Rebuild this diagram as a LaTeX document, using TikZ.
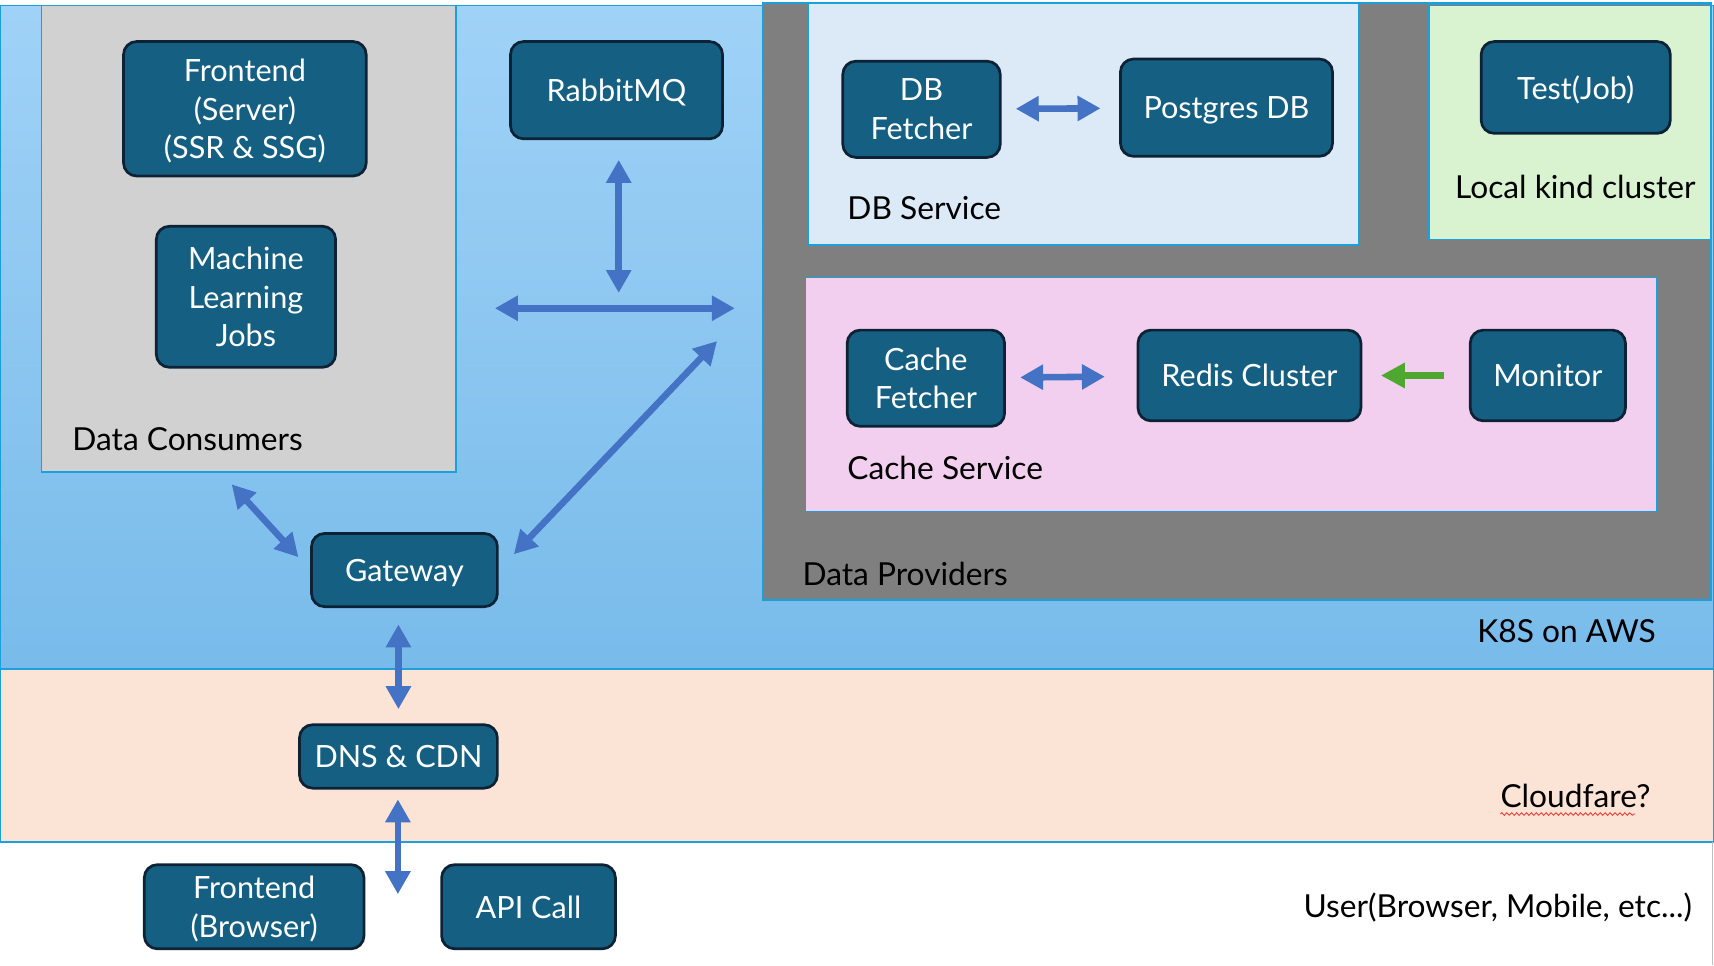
\documentclass[tikz,border=0pt]{standalone}
\usepackage{fontspec}
\setmainfont{Lato}
\usetikzlibrary{arrows.meta}
\usetikzlibrary{decorations.pathmorphing}
\definecolor{k8stop}{HTML}{A0D2F7}
\definecolor{k8sbot}{HTML}{78BBEA}
\definecolor{edgeblue}{HTML}{1AA0DA}
\definecolor{cdnpeach}{HTML}{FBE3D6}
\definecolor{consgray}{HTML}{D1D1D1}
\definecolor{provgray}{HTML}{7F7F7F}
\definecolor{dbblue}{HTML}{DCEAF7}
\definecolor{kindgreen}{HTML}{D9F2D0}
\definecolor{cachepink}{HTML}{F2CFEE}
\definecolor{boxfill}{HTML}{156082}
\definecolor{boxline}{HTML}{0E2236}
\definecolor{linkblue}{HTML}{4472C4}
\definecolor{pushgreen}{HTML}{4EA72E}
\definecolor{spellred}{HTML}{E8403A}
\newcommand{\Region}[6]% #1=name, #2=fill options, #3-#6 = x1,y1,x2,y2
{\node[region, #2, minimum width={#5-#3}, minimum height={#6-#4}] (#1) at ({(#3+#5)/2},{(#4+#6)/2}) {};
}

\begin{document}
\begin{tikzpicture}[x=1pt, y=-1pt,
  region/.style={rectangle, draw=edgeblue, line width=1.5pt, inner sep=0pt},
  box/.style={rectangle, rounded corners=12pt, fill=boxfill, draw=boxline, line width=2.5pt,
    text=white, align=center, inner sep=0pt, text depth=0pt, font=\fontsize{28}{35.5}\selectfont},
  tag/.style={inner sep=0pt, text depth=0pt, font=\fontsize{29}{34}\selectfont},
  link/.style={linkblue, line width=6pt, {Triangle[length=21pt,width=22pt]}-{Triangle[length=21pt,width=22pt]}},
  push/.style={pushgreen, line width=7pt, -{Triangle[length=22pt,width=22pt]}}]
  \useasboundingbox (0,0) rectangle (1568,883);
  \fill[white] (0,0) rectangle (1568,883);
  % layers
  \Region{k8s}{top color=k8stop, bottom color=k8sbot}{0}{5}{1568}{612}
  \Region{cdn}{fill=cdnpeach}{0}{612}{1568}{770}
  \draw[gray!50, line width=1pt] (1567,770) -- (1567,883);
  \Region{dc}{fill=consgray}{38}{5}{417}{432}
  \Region{dp}{fill=provgray}{698}{3}{1565}{549}
  \Region{dbs}{fill=dbblue}{739}{3}{1243}{224}
  \Region{kind}{fill=kindgreen}{1307}{5}{1565}{219}
  \Region{cs}{fill=cachepink}{737}{254}{1516}{468}
  % services
  \node[box, minimum width=222, minimum height=123] (fes) at (224,99.5) {Frontend\\(Server)\\(SSR \& SSG)};
  \node[box, minimum width=164, minimum height=129] (ml) at (225,271.5) {Machine\\Learning\\Jobs};
  \node[box, minimum width=194, minimum height=89] (rabbit) at (564,82.5) {RabbitMQ};
  \node[box, minimum width=170, minimum height=67] (gw) at (370,521.5) {Gateway};
  \node[box, minimum width=181, minimum height=58] (dns) at (364.5,692) {DNS \& CDN};
  \node[box, minimum width=201, minimum height=77] (feb) at (232.5,829.5) {Frontend\\(Browser)};
  \node[box, minimum width=159, minimum height=77] (api) at (483.5,829.5) {API Call};
  \node[box, minimum width=144, minimum height=88] (dbf) at (843,100) {DB\\Fetcher};
  \node[box, minimum width=194, minimum height=89] (pg) at (1122,98.5) {Postgres DB};
  \node[box, minimum width=173, minimum height=84] (test) at (1441.5,80) {Test(Job)};
  \node[box, minimum width=144, minimum height=88] (cf) at (847,346) {Cache\\Fetcher};
  \node[box, minimum width=204, minimum height=83] (redis) at (1143,343.5) {Redis Cluster};
  \node[box, minimum width=142, minimum height=83] (mon) at (1416,343.5) {Monitor};
  % region labels
  \node[tag, anchor=west] (dclabel) at (66,402) {Data Consumers};
  \node[tag, anchor=west] (dblabel) at (775,190) {DB Service};
  \node[tag, anchor=west] (kindlabel) at (1331,171) {Local kind cluster};
  \node[tag, anchor=west] (cslabel) at (775,428) {Cache Service};
  \node[tag, anchor=west] (dplabel) at (734,525) {Data Providers};
  \node[tag, anchor=east] (k8slabel) at (1515,577) {K8S on AWS};
  \node[tag, anchor=east] (cloud) at (1510,728) {Cloudfare?};
  \node[tag, anchor=east] (userlabel) at (1548,828) {User(Browser, Mobile, etc...)};
  \draw[spellred, line width=0.8pt, decorate, decoration={snake, amplitude=1.2pt, segment length=4.5pt}]
    ([yshift=-6pt]cloud.base west) -- ([yshift=-6pt, xshift=-14pt]cloud.base east);
  % links
  \coordinate (hub) at (566,282);
  \coordinate (provin) at (656,312);
  \coordinate (client) at (364,818);
  \draw[link, shorten <=18pt, shorten >=14pt] (rabbit.south -| hub) -- (hub);
  \draw[link, shorten <=35pt, shorten >=25pt] (dc.east |- hub) -- (dp.west |- hub);
  \draw[link, shorten <=20pt] (gw.east) -- (provin);
  \draw[link, shorten <=14pt, shorten >=16pt] ([xshift=-25pt]dc.south) -- (gw.west);
  \draw[link, shorten <=15pt, shorten >=13pt] (dns.north |- gw.south) -- (dns.north);
  \draw[link, shorten <=9pt] (dns.south -| client) -- (client);
  \draw[link, shorten <=13pt, shorten >=17pt] (dbf) -- (pg);
  \draw[link, shorten <=13pt, shorten >=29pt] (cf) -- (redis);
  \draw[push, shorten <=23pt, shorten >=17pt] (mon) -- (redis);
\end{tikzpicture}
\end{document}
